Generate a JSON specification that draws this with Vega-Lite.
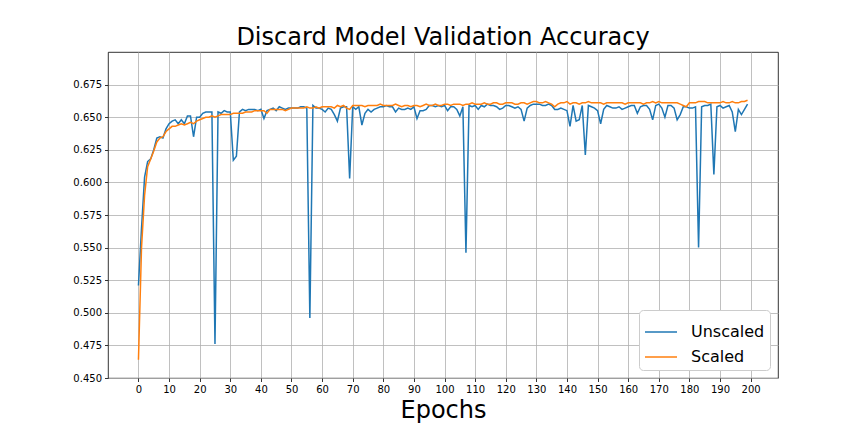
{
  "$schema": "https://vega.github.io/schema/vega-lite/v6.json",
  "width": 670,
  "height": 326,
  "autosize": {"type": "none"},
  "padding": {"left": 108, "top": 52, "right": 86, "bottom": 54},
  "background": "white",
  "title": {
    "text": "Discard Model Validation Accuracy",
    "font": "DejaVu Sans",
    "fontSize": 24,
    "fontWeight": "normal",
    "color": "black",
    "offset": 2
  },
  "datasets": {
    "unscaled": [
      {"epoch":0,"acc":0.521},{"epoch":1,"acc":0.565},{"epoch":2,"acc":0.604},{"epoch":3,"acc":0.616},{"epoch":4,"acc":0.618},
      {"epoch":5,"acc":0.625},{"epoch":6,"acc":0.634},{"epoch":7,"acc":0.635},{"epoch":8,"acc":0.634},{"epoch":9,"acc":0.641},
      {"epoch":10,"acc":0.645},{"epoch":11,"acc":0.647},{"epoch":12,"acc":0.648},{"epoch":13,"acc":0.645},{"epoch":14,"acc":0.648},
      {"epoch":15,"acc":0.645},{"epoch":16,"acc":0.651},{"epoch":17,"acc":0.651},{"epoch":18,"acc":0.635},{"epoch":19,"acc":0.65},
      {"epoch":20,"acc":0.65},{"epoch":21,"acc":0.653},{"epoch":22,"acc":0.654},{"epoch":23,"acc":0.654},{"epoch":24,"acc":0.654},
      {"epoch":25,"acc":0.476},{"epoch":26,"acc":0.654},{"epoch":27,"acc":0.653},{"epoch":28,"acc":0.655},{"epoch":29,"acc":0.654},
      {"epoch":30,"acc":0.654},{"epoch":31,"acc":0.617},{"epoch":32,"acc":0.62},{"epoch":33,"acc":0.654},{"epoch":34,"acc":0.656},
      {"epoch":35,"acc":0.655},{"epoch":36,"acc":0.656},{"epoch":37,"acc":0.656},{"epoch":38,"acc":0.656},{"epoch":39,"acc":0.655},
      {"epoch":40,"acc":0.656},{"epoch":41,"acc":0.649},{"epoch":42,"acc":0.655},{"epoch":43,"acc":0.656},{"epoch":44,"acc":0.657},
      {"epoch":45,"acc":0.655},{"epoch":46,"acc":0.658},{"epoch":47,"acc":0.657},{"epoch":48,"acc":0.656},{"epoch":49,"acc":0.657},
      {"epoch":50,"acc":0.657},{"epoch":51,"acc":0.657},{"epoch":52,"acc":0.657},{"epoch":53,"acc":0.658},{"epoch":54,"acc":0.658},
      {"epoch":55,"acc":0.657},{"epoch":56,"acc":0.496},{"epoch":57,"acc":0.659},{"epoch":58,"acc":0.657},{"epoch":59,"acc":0.657},
      {"epoch":60,"acc":0.656},{"epoch":61,"acc":0.654},{"epoch":62,"acc":0.657},{"epoch":63,"acc":0.656},{"epoch":64,"acc":0.652},
      {"epoch":65,"acc":0.647},{"epoch":66,"acc":0.657},{"epoch":67,"acc":0.658},{"epoch":68,"acc":0.658},{"epoch":69,"acc":0.603},
      {"epoch":70,"acc":0.658},{"epoch":71,"acc":0.656},{"epoch":72,"acc":0.658},{"epoch":73,"acc":0.644},{"epoch":74,"acc":0.653},
      {"epoch":75,"acc":0.656},{"epoch":76,"acc":0.654},{"epoch":77,"acc":0.656},{"epoch":78,"acc":0.657},{"epoch":79,"acc":0.658},
      {"epoch":80,"acc":0.658},{"epoch":81,"acc":0.659},{"epoch":82,"acc":0.658},{"epoch":83,"acc":0.658},{"epoch":84,"acc":0.654},
      {"epoch":85,"acc":0.657},{"epoch":86,"acc":0.656},{"epoch":87,"acc":0.656},{"epoch":88,"acc":0.657},{"epoch":89,"acc":0.656},
      {"epoch":90,"acc":0.658},{"epoch":91,"acc":0.649},{"epoch":92,"acc":0.655},{"epoch":93,"acc":0.655},{"epoch":94,"acc":0.656},
      {"epoch":95,"acc":0.659},{"epoch":96,"acc":0.659},{"epoch":97,"acc":0.658},{"epoch":98,"acc":0.659},{"epoch":99,"acc":0.658},
      {"epoch":100,"acc":0.659},{"epoch":101,"acc":0.655},{"epoch":102,"acc":0.658},{"epoch":103,"acc":0.658},{"epoch":104,"acc":0.656},
      {"epoch":105,"acc":0.651},{"epoch":106,"acc":0.658},{"epoch":107,"acc":0.546},{"epoch":108,"acc":0.659},{"epoch":109,"acc":0.658},
      {"epoch":110,"acc":0.659},{"epoch":111,"acc":0.656},{"epoch":112,"acc":0.659},{"epoch":113,"acc":0.658},{"epoch":114,"acc":0.66},
      {"epoch":115,"acc":0.659},{"epoch":116,"acc":0.659},{"epoch":117,"acc":0.658},{"epoch":118,"acc":0.656},{"epoch":119,"acc":0.657},
      {"epoch":120,"acc":0.659},{"epoch":121,"acc":0.659},{"epoch":122,"acc":0.658},{"epoch":123,"acc":0.657},{"epoch":124,"acc":0.658},
      {"epoch":125,"acc":0.656},{"epoch":126,"acc":0.647},{"epoch":127,"acc":0.657},{"epoch":128,"acc":0.659},{"epoch":129,"acc":0.66},
      {"epoch":130,"acc":0.66},{"epoch":131,"acc":0.66},{"epoch":132,"acc":0.659},{"epoch":133,"acc":0.659},{"epoch":134,"acc":0.66},
      {"epoch":135,"acc":0.659},{"epoch":136,"acc":0.656},{"epoch":137,"acc":0.656},{"epoch":138,"acc":0.657},{"epoch":139,"acc":0.656},
      {"epoch":140,"acc":0.655},{"epoch":141,"acc":0.643},{"epoch":142,"acc":0.659},{"epoch":143,"acc":0.647},{"epoch":144,"acc":0.648},
      {"epoch":145,"acc":0.659},{"epoch":146,"acc":0.621},{"epoch":147,"acc":0.659},{"epoch":148,"acc":0.658},{"epoch":149,"acc":0.657},
      {"epoch":150,"acc":0.655},{"epoch":151,"acc":0.645},{"epoch":152,"acc":0.656},{"epoch":153,"acc":0.659},{"epoch":154,"acc":0.658},
      {"epoch":155,"acc":0.657},{"epoch":156,"acc":0.657},{"epoch":157,"acc":0.658},{"epoch":158,"acc":0.656},{"epoch":159,"acc":0.657},
      {"epoch":160,"acc":0.658},{"epoch":161,"acc":0.659},{"epoch":162,"acc":0.659},{"epoch":163,"acc":0.653},{"epoch":164,"acc":0.658},
      {"epoch":165,"acc":0.659},{"epoch":166,"acc":0.659},{"epoch":167,"acc":0.656},{"epoch":168,"acc":0.648},{"epoch":169,"acc":0.659},
      {"epoch":170,"acc":0.66},{"epoch":171,"acc":0.657},{"epoch":172,"acc":0.65},{"epoch":173,"acc":0.659},{"epoch":174,"acc":0.659},
      {"epoch":175,"acc":0.657},{"epoch":176,"acc":0.648},{"epoch":177,"acc":0.652},{"epoch":178,"acc":0.658},{"epoch":179,"acc":0.658},
      {"epoch":180,"acc":0.657},{"epoch":181,"acc":0.657},{"epoch":182,"acc":0.658},{"epoch":183,"acc":0.55},{"epoch":184,"acc":0.658},
      {"epoch":185,"acc":0.659},{"epoch":186,"acc":0.659},{"epoch":187,"acc":0.66},{"epoch":188,"acc":0.606},{"epoch":189,"acc":0.658},
      {"epoch":190,"acc":0.659},{"epoch":191,"acc":0.657},{"epoch":192,"acc":0.658},{"epoch":193,"acc":0.659},{"epoch":194,"acc":0.654},
      {"epoch":195,"acc":0.639},{"epoch":196,"acc":0.656},{"epoch":197,"acc":0.652},{"epoch":198,"acc":0.656},{"epoch":199,"acc":0.66}
    ],
    "scaled": [
      {"epoch":0,"acc":0.464},{"epoch":1,"acc":0.55},{"epoch":2,"acc":0.59},{"epoch":3,"acc":0.612},{"epoch":4,"acc":0.618},
      {"epoch":5,"acc":0.624},{"epoch":6,"acc":0.631},{"epoch":7,"acc":0.634},{"epoch":8,"acc":0.635},{"epoch":9,"acc":0.639},
      {"epoch":10,"acc":0.641},{"epoch":11,"acc":0.643},{"epoch":12,"acc":0.643},{"epoch":13,"acc":0.644},{"epoch":14,"acc":0.645},
      {"epoch":15,"acc":0.644},{"epoch":16,"acc":0.645},{"epoch":17,"acc":0.646},{"epoch":18,"acc":0.645},{"epoch":19,"acc":0.647},
      {"epoch":20,"acc":0.648},{"epoch":21,"acc":0.649},{"epoch":22,"acc":0.65},{"epoch":23,"acc":0.65},{"epoch":24,"acc":0.651},
      {"epoch":25,"acc":0.65},{"epoch":26,"acc":0.651},{"epoch":27,"acc":0.652},{"epoch":28,"acc":0.652},{"epoch":29,"acc":0.652},
      {"epoch":30,"acc":0.652},{"epoch":31,"acc":0.653},{"epoch":32,"acc":0.653},{"epoch":33,"acc":0.653},{"epoch":34,"acc":0.653},
      {"epoch":35,"acc":0.654},{"epoch":36,"acc":0.654},{"epoch":37,"acc":0.654},{"epoch":38,"acc":0.655},{"epoch":39,"acc":0.655},
      {"epoch":40,"acc":0.655},{"epoch":41,"acc":0.655},{"epoch":42,"acc":0.653},{"epoch":43,"acc":0.656},{"epoch":44,"acc":0.656},
      {"epoch":45,"acc":0.656},{"epoch":46,"acc":0.656},{"epoch":47,"acc":0.656},{"epoch":48,"acc":0.655},{"epoch":49,"acc":0.656},
      {"epoch":50,"acc":0.657},{"epoch":51,"acc":0.657},{"epoch":52,"acc":0.657},{"epoch":53,"acc":0.657},{"epoch":54,"acc":0.657},
      {"epoch":55,"acc":0.658},{"epoch":56,"acc":0.657},{"epoch":57,"acc":0.657},{"epoch":58,"acc":0.658},{"epoch":59,"acc":0.657},
      {"epoch":60,"acc":0.658},{"epoch":61,"acc":0.658},{"epoch":62,"acc":0.658},{"epoch":63,"acc":0.658},{"epoch":64,"acc":0.657},
      {"epoch":65,"acc":0.659},{"epoch":66,"acc":0.658},{"epoch":67,"acc":0.659},{"epoch":68,"acc":0.657},{"epoch":69,"acc":0.656},
      {"epoch":70,"acc":0.659},{"epoch":71,"acc":0.659},{"epoch":72,"acc":0.659},{"epoch":73,"acc":0.659},{"epoch":74,"acc":0.658},
      {"epoch":75,"acc":0.659},{"epoch":76,"acc":0.659},{"epoch":77,"acc":0.659},{"epoch":78,"acc":0.659},{"epoch":79,"acc":0.66},
      {"epoch":80,"acc":0.659},{"epoch":81,"acc":0.659},{"epoch":82,"acc":0.659},{"epoch":83,"acc":0.659},{"epoch":84,"acc":0.66},
      {"epoch":85,"acc":0.659},{"epoch":86,"acc":0.658},{"epoch":87,"acc":0.659},{"epoch":88,"acc":0.659},{"epoch":89,"acc":0.658},
      {"epoch":90,"acc":0.659},{"epoch":91,"acc":0.659},{"epoch":92,"acc":0.658},{"epoch":93,"acc":0.659},{"epoch":94,"acc":0.66},
      {"epoch":95,"acc":0.659},{"epoch":96,"acc":0.659},{"epoch":97,"acc":0.66},{"epoch":98,"acc":0.659},{"epoch":99,"acc":0.659},
      {"epoch":100,"acc":0.66},{"epoch":101,"acc":0.66},{"epoch":102,"acc":0.659},{"epoch":103,"acc":0.66},{"epoch":104,"acc":0.66},
      {"epoch":105,"acc":0.66},{"epoch":106,"acc":0.659},{"epoch":107,"acc":0.66},{"epoch":108,"acc":0.66},{"epoch":109,"acc":0.661},
      {"epoch":110,"acc":0.66},{"epoch":111,"acc":0.66},{"epoch":112,"acc":0.66},{"epoch":113,"acc":0.661},{"epoch":114,"acc":0.66},
      {"epoch":115,"acc":0.66},{"epoch":116,"acc":0.661},{"epoch":117,"acc":0.661},{"epoch":118,"acc":0.66},{"epoch":119,"acc":0.66},
      {"epoch":120,"acc":0.661},{"epoch":121,"acc":0.661},{"epoch":122,"acc":0.661},{"epoch":123,"acc":0.66},{"epoch":124,"acc":0.66},
      {"epoch":125,"acc":0.661},{"epoch":126,"acc":0.661},{"epoch":127,"acc":0.66},{"epoch":128,"acc":0.661},{"epoch":129,"acc":0.662},
      {"epoch":130,"acc":0.662},{"epoch":131,"acc":0.661},{"epoch":132,"acc":0.661},{"epoch":133,"acc":0.662},{"epoch":134,"acc":0.661},
      {"epoch":135,"acc":0.66},{"epoch":136,"acc":0.658},{"epoch":137,"acc":0.66},{"epoch":138,"acc":0.661},{"epoch":139,"acc":0.661},
      {"epoch":140,"acc":0.662},{"epoch":141,"acc":0.66},{"epoch":142,"acc":0.661},{"epoch":143,"acc":0.661},{"epoch":144,"acc":0.66},
      {"epoch":145,"acc":0.661},{"epoch":146,"acc":0.661},{"epoch":147,"acc":0.662},{"epoch":148,"acc":0.661},{"epoch":149,"acc":0.661},
      {"epoch":150,"acc":0.661},{"epoch":151,"acc":0.661},{"epoch":152,"acc":0.66},{"epoch":153,"acc":0.661},{"epoch":154,"acc":0.661},
      {"epoch":155,"acc":0.661},{"epoch":156,"acc":0.661},{"epoch":157,"acc":0.661},{"epoch":158,"acc":0.661},{"epoch":159,"acc":0.66},
      {"epoch":160,"acc":0.661},{"epoch":161,"acc":0.661},{"epoch":162,"acc":0.661},{"epoch":163,"acc":0.661},{"epoch":164,"acc":0.661},
      {"epoch":165,"acc":0.66},{"epoch":166,"acc":0.661},{"epoch":167,"acc":0.661},{"epoch":168,"acc":0.662},{"epoch":169,"acc":0.661},
      {"epoch":170,"acc":0.662},{"epoch":171,"acc":0.661},{"epoch":172,"acc":0.661},{"epoch":173,"acc":0.661},{"epoch":174,"acc":0.661},
      {"epoch":175,"acc":0.661},{"epoch":176,"acc":0.661},{"epoch":177,"acc":0.66},{"epoch":178,"acc":0.659},{"epoch":179,"acc":0.658},
      {"epoch":180,"acc":0.661},{"epoch":181,"acc":0.661},{"epoch":182,"acc":0.661},{"epoch":183,"acc":0.662},{"epoch":184,"acc":0.662},
      {"epoch":185,"acc":0.662},{"epoch":186,"acc":0.661},{"epoch":187,"acc":0.661},{"epoch":188,"acc":0.661},{"epoch":189,"acc":0.661},
      {"epoch":190,"acc":0.661},{"epoch":191,"acc":0.662},{"epoch":192,"acc":0.661},{"epoch":193,"acc":0.661},{"epoch":194,"acc":0.662},
      {"epoch":195,"acc":0.661},{"epoch":196,"acc":0.661},{"epoch":197,"acc":0.662},{"epoch":198,"acc":0.662},{"epoch":199,"acc":0.663}
    ]
  },
  "encoding": {
    "x": {
      "field": "epoch",
      "type": "quantitative",
      "scale": {"domain": [-9.95, 208.95], "nice": false, "zero": false},
      "axis": {
        "title": "Epochs",
        "values": [0,10,20,30,40,50,60,70,80,90,100,110,120,130,140,150,160,170,180,190,200],
        "titleFontSize": 24,
        "titlePadding": 4
      }
    },
    "y": {
      "field": "acc",
      "type": "quantitative",
      "scale": {"domain": [0.45, 0.7], "nice": false, "zero": false},
      "axis": {
        "title": null,
        "format": ".3f",
        "values": [0.45,0.475,0.5,0.525,0.55,0.575,0.6,0.625,0.65,0.675]
      }
    }
  },
  "layer": [
    {
      "data": {"name": "unscaled"},
      "mark": {"type": "line", "strokeWidth": 1.5, "clip": true},
      "encoding": {
        "color": {
          "datum": "Unscaled",
          "type": "nominal",
          "scale": {"domain": ["Unscaled", "Scaled"], "range": ["#1f77b4", "#ff7f0e"]},
          "legend": {
            "title": null,
            "orient": "bottom-right",
            "offset": 8,
            "padding": 5,
            "fillColor": "white",
            "strokeColor": "#cccccc",
            "cornerRadius": 4,
            "symbolType": "stroke",
            "symbolSize": 1024,
            "symbolStrokeWidth": 1.5,
            "labelFontSize": 16,
            "labelOffset": 13,
            "rowPadding": -2
          }
        }
      }
    },
    {
      "data": {"name": "scaled"},
      "mark": {"type": "line", "strokeWidth": 1.5, "clip": true},
      "encoding": {
        "color": {"datum": "Scaled", "type": "nominal"}
      }
    }
  ],
  "config": {
    "font": "DejaVu Sans",
    "view": {"stroke": "black", "strokeWidth": 0.8},
    "axis": {
      "domain": false,
      "grid": true,
      "gridColor": "#b0b0b0",
      "gridWidth": 0.8,
      "gridOpacity": 1,
      "ticks": true,
      "tickSize": 3.5,
      "tickColor": "black",
      "tickWidth": 0.8,
      "labelFont": "DejaVu Sans",
      "labelFontSize": 10,
      "labelColor": "black",
      "labelPadding": 3,
      "labelFlush": false,
      "titleFont": "DejaVu Sans",
      "titleFontWeight": "normal",
      "titleColor": "black"
    },
    "legend": {"labelFont": "DejaVu Sans", "labelColor": "black"}
  }
}
